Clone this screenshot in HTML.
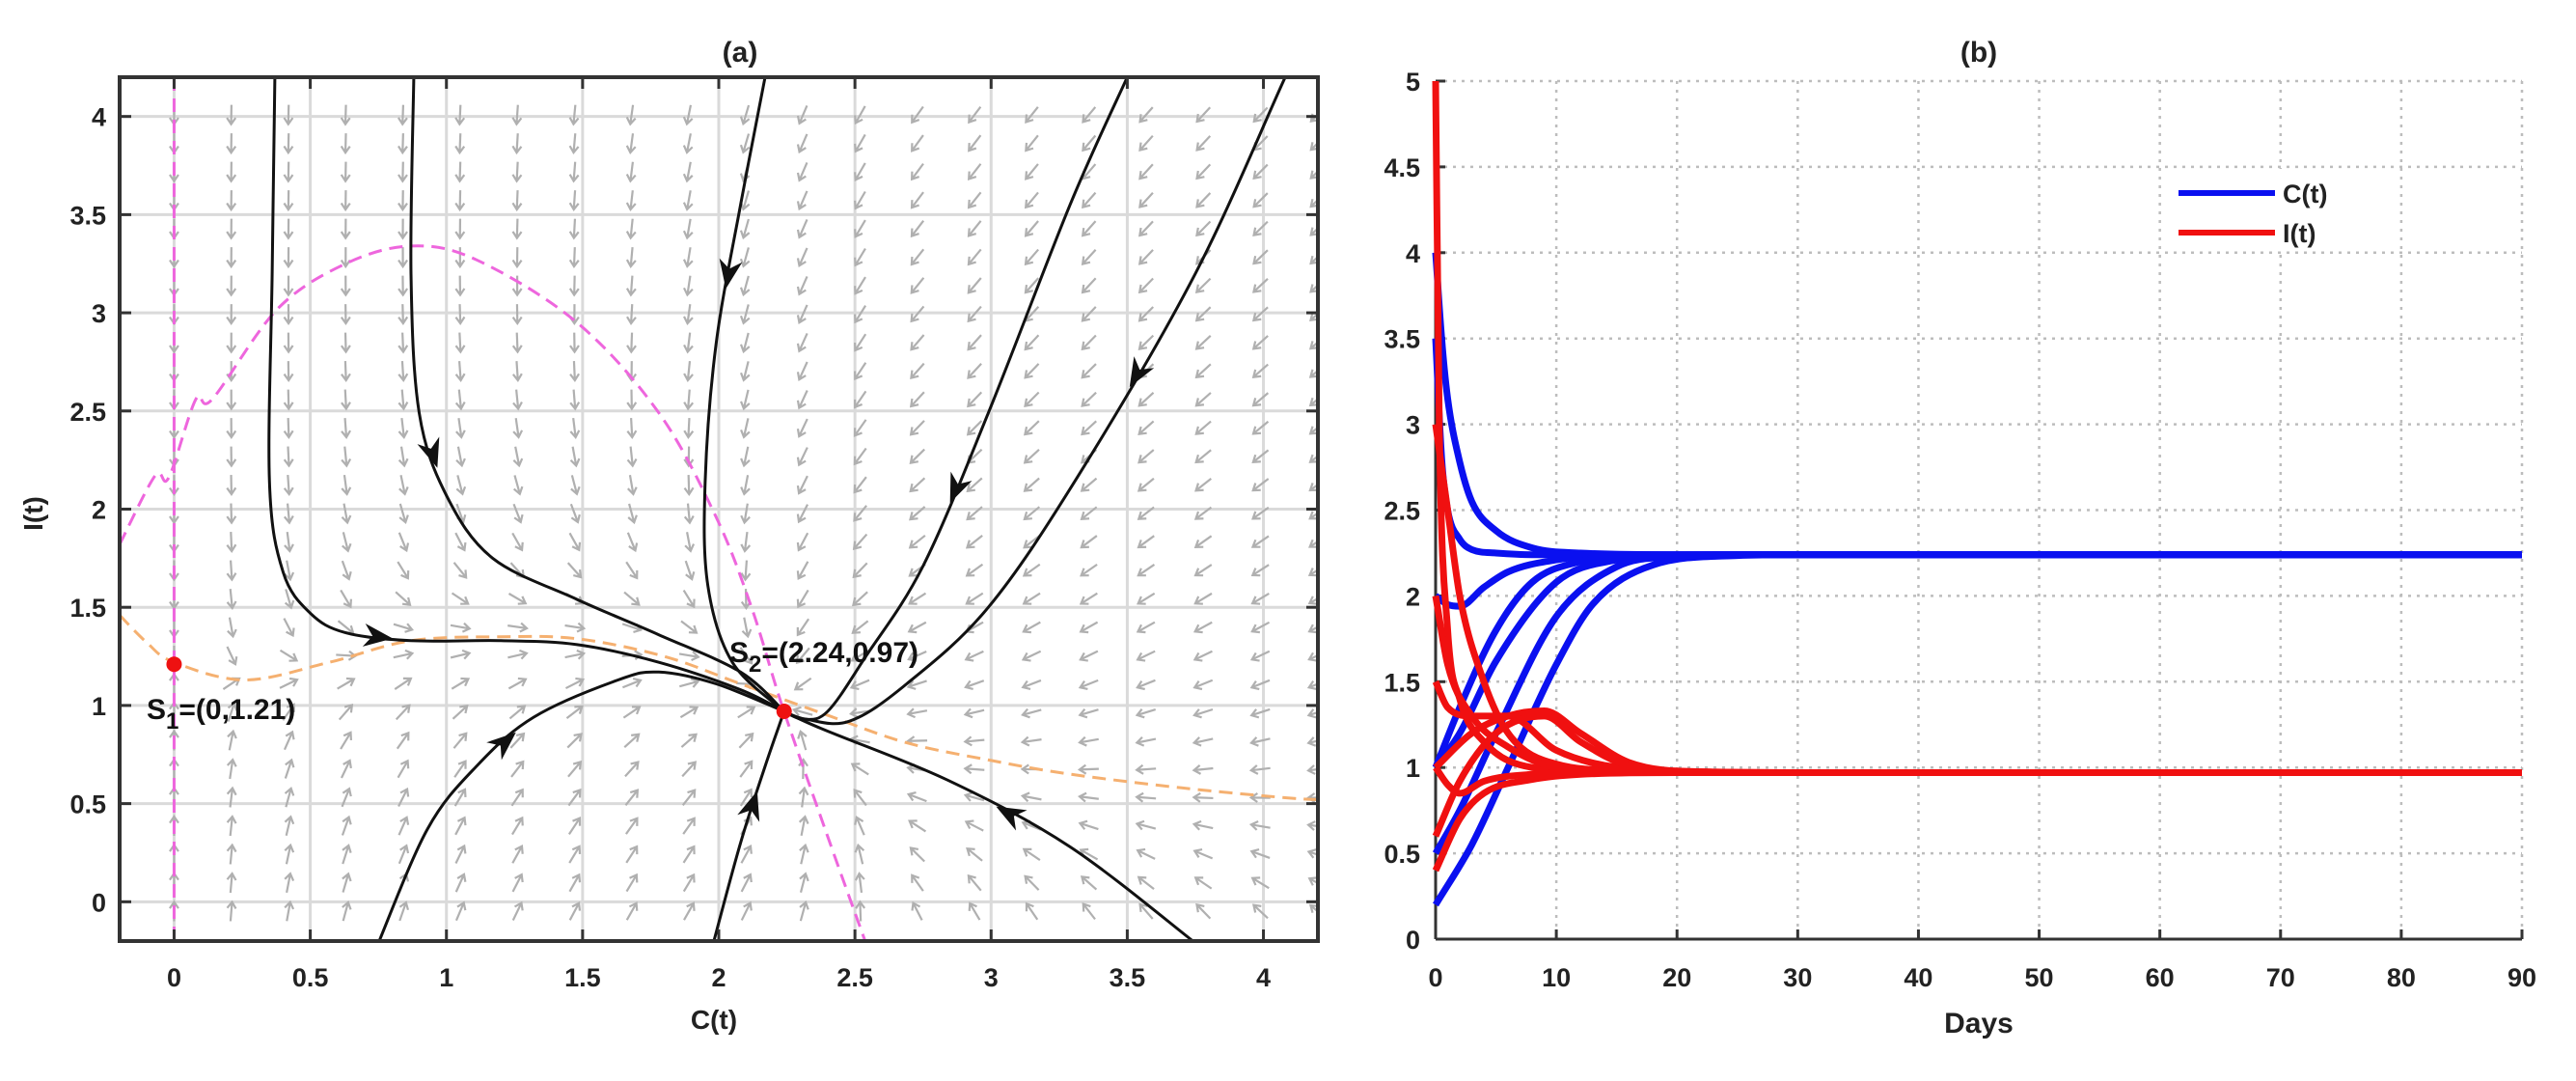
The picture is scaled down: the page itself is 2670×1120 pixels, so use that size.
<!DOCTYPE html>
<html><head><meta charset="utf-8"><style>
body{margin:0;background:#fff;}
svg{display:block;font-family:"Liberation Sans",sans-serif;}
</style></head><body>
<svg id="fig" width="2670" height="1120" viewBox="0 0 2670 1120" xmlns="http://www.w3.org/2000/svg">
<rect width="2670" height="1120" fill="#fff"/>
<g id="pa"></g>
<g id="pb"></g>
</svg>
<script>
// ---------- Panel (a) data ----------
const aXTicks=[0,0.5,1,1.5,2,2.5,3,3.5,4];
const aXTickLabels=["0","0.5","1","1.5","2","2.5","3","3.5","4"];
const aYTicks=[0,0.5,1,1.5,2,2.5,3,3.5,4];
const aYTickLabels=["0","0.5","1","1.5","2","2.5","3","3.5","4"];
const traj1=[[0.37,4.2],[0.36,3.2],[0.35,2.14],[0.4,1.68],[0.5,1.47],[0.63,1.37],[0.87,1.33],[1.2,1.33],[1.48,1.31],[1.78,1.22],[2.08,1.08],[2.24,0.97]];
const traj2=[[0.88,4.2],[0.87,3.2],[0.9,2.49],[1.0,2.07],[1.17,1.75],[1.48,1.54],[1.78,1.36],[2.08,1.17],[2.24,0.97]];
const traj3=[[2.17,4.2],[2.08,3.55],[1.99,2.84],[1.95,2.14],[1.96,1.61],[2.05,1.22],[2.24,0.97]];
const traj4=[[3.5,4.2],[3.29,3.55],[2.99,2.49],[2.75,1.71],[2.54,1.25],[2.4,0.97],[2.31,0.93],[2.24,0.97]];
const traj5=[[4.2,4.55],[4.08,4.2],[3.75,3.2],[3.32,2.17],[2.99,1.5],[2.69,1.11],[2.48,0.92],[2.32,0.93],[2.24,0.97]];
const traj6=[[0.75,-0.21],[0.93,0.37],[1.11,0.69],[1.32,0.94],[1.63,1.13],[1.78,1.17],[1.99,1.11],[2.24,0.97]];
const traj7=[[1.98,-0.21],[2.08,0.3],[2.17,0.69],[2.24,0.97]];
const traj8=[[3.75,-0.21],[3.29,0.28],[2.84,0.62],[2.38,0.88],[2.24,0.97]];
const trajectories=[traj1,traj2,traj3,traj4,traj5,traj6,traj7,traj8];
const trajArrowIdx=[5,2,1,2,2,2,1,1];
const orangeNull=[[-0.2,1.46],[-0.1,1.32],[0,1.22],[0.26,1.13],[0.57,1.22],[0.87,1.33],[1.2,1.35],[1.48,1.34],[1.8,1.25],[2.08,1.11],[2.4,0.95],[2.69,0.81],[3.0,0.72],[3.29,0.65],[3.7,0.58],[4.08,0.53],[4.2,0.52]];
const pinkNull=[[-0.2,1.82],[-0.07,2.17],[-0.02,2.16],[0.08,2.56],[0.14,2.56],[0.38,3.02],[0.63,3.25],[0.87,3.34],[1.11,3.27],[1.48,2.95],[1.78,2.49],[1.99,1.96],[2.12,1.5],[2.23,1.01],[2.38,0.41],[2.54,-0.21]];
const equilibria=[[0,1.21],[2.24,0.97]];

// ---------- Panel (b) data ----------
const bXTicks=[0,10,20,30,40,50,60,70,80,90];
const bXTickLabels=["0","10","20","30","40","50","60","70","80","90"];
const bYTicks=[0,0.5,1,1.5,2,2.5,3,3.5,4,4.5,5];
const bYTickLabels=["0","0.5","1","1.5","2","2.5","3","3.5","4","4.5","5"];
const tC1=[0,0.5,1,2,3,5,8,12,20,30,90], C1=[4,3.5,3.15,2.78,2.55,2.38,2.28,2.25,2.24,2.24,2.24];
const tC2=[0,0.5,1,2,3,5,8,15,30,90], C2=[3.5,2.8,2.5,2.33,2.27,2.25,2.24,2.24,2.24,2.24];
const tC3=[0,1,2,4,6,10,15,30,90], C3=[2.0,1.95,1.94,2.05,2.14,2.21,2.24,2.24,2.24];
const tC4=[0,2,5,8,12,16,22,30,90], C4=[1.0,1.35,1.8,2.08,2.2,2.23,2.24,2.24,2.24];
const tC5=[0,2,5,10,15,20,25,30,90], C5=[1.0,1.2,1.62,2.08,2.21,2.235,2.24,2.24,2.24];
const tC6=[0,2,5,10,15,20,25,30,90], C6=[0.5,0.75,1.2,1.88,2.17,2.23,2.24,2.24,2.24];
const tC7=[0,3,6,10,13,18,25,30,90], C7=[0.2,0.55,1.0,1.6,1.95,2.18,2.235,2.24,2.24];
const tI1=[0,0.3,1,2,4,8,14,20,30,90], I1=[5,3.0,1.8,1.4,1.15,1.0,0.975,0.97,0.97,0.97];
const tI2=[0,1,2,4,6,10,16,22,30,90], I2=[3,2.5,2.0,1.5,1.2,1.02,0.98,0.97,0.97,0.97];
const tI3=[0,1,3,6,10,16,22,30,90], I3=[2,1.6,1.3,1.12,1.0,0.975,0.97,0.97,0.97];
const tI4=[0,1,3,6,10,16,22,30,90], I4=[1.5,1.35,1.3,1.3,1.1,0.99,0.97,0.97,0.97];
const tI5=[0,3,6,9,12,16,22,30,90], I5=[1.0,1.2,1.3,1.33,1.2,1.03,0.975,0.97,0.97];
const tI6=[0,2,5,9,12,16,22,30,90], I6=[0.6,0.92,1.2,1.3,1.15,1.01,0.975,0.97,0.97];
const tI7=[0,2,4,8,12,20,30,90], I7=[0.4,0.7,0.85,0.93,0.96,0.97,0.97,0.97];
const tI8=[0,1,2,4,8,14,22,30,90], I8=[1.0,0.9,0.85,0.92,0.96,0.97,0.97,0.97,0.97];
const cSeriesT=[tC1,tC2,tC3,tC4,tC5,tC6,tC7];
const cSeries=[C1,C2,C3,C4,C5,C6,C7];
const iSeriesT=[tI1,tI2,tI3,tI4,tI5,tI6,tI7,tI8];
const iSeries=[I1,I2,I3,I4,I5,I6,I7,I8];

const NS="http://www.w3.org/2000/svg";
function mk(tag,attrs,parent){const e=document.createElementNS(NS,tag);for(const k in attrs)e.setAttribute(k,attrs[k]);parent.appendChild(e);return e;}
function smooth(pts){let d="M"+pts[0][0].toFixed(1)+","+pts[0][1].toFixed(1);
 for(let i=0;i<pts.length-1;i++){const p0=pts[i-1]||pts[i],p1=pts[i],p2=pts[i+1],p3=pts[i+2]||p2;
  const c1=[p1[0]+(p2[0]-p0[0])/6,p1[1]+(p2[1]-p0[1])/6],c2=[p2[0]-(p3[0]-p1[0])/6,p2[1]-(p3[1]-p1[1])/6];
  d+="C"+c1[0].toFixed(1)+","+c1[1].toFixed(1)+" "+c2[0].toFixed(1)+","+c2[1].toFixed(1)+" "+p2[0].toFixed(1)+","+p2[1].toFixed(1);}
 return d;}
// monotone cubic (Fritsch-Carlson) path for function data x->y (pixel coords, x increasing)
function monotone(pts){const n=pts.length;const dx=[],m=[],s=[];
 for(let i=0;i<n-1;i++){dx[i]=pts[i+1][0]-pts[i][0];s[i]=(pts[i+1][1]-pts[i][1])/dx[i];}
 m[0]=s[0];m[n-1]=s[n-2];
 for(let i=1;i<n-1;i++){m[i]=(s[i-1]*s[i]<=0)?0:(s[i-1]+s[i])/2;}
 for(let i=0;i<n-1;i++){if(s[i]===0){m[i]=0;m[i+1]=0;continue;}const a=m[i]/s[i],b=m[i+1]/s[i],h=a*a+b*b;if(h>9){const t=3/Math.sqrt(h);m[i]=t*a*s[i];m[i+1]=t*b*s[i];}}
 let d="M"+pts[0][0].toFixed(1)+","+pts[0][1].toFixed(1);
 for(let i=0;i<n-1;i++){const h=dx[i]/3;d+="C"+(pts[i][0]+h).toFixed(1)+","+(pts[i][1]+m[i]*h).toFixed(1)+" "+(pts[i+1][0]-h).toFixed(1)+","+(pts[i+1][1]-m[i+1]*h).toFixed(1)+" "+pts[i+1][0].toFixed(1)+","+pts[i+1][1].toFixed(1);}
 return d;}

// ---------- Panel (a) ----------
const pa=document.getElementById('pa');
const aL=124,aR=1366,aT=80,aB=975,aXmin=-0.2,aXmax=4.2,aYmin=-0.2,aYmax=4.2;
const ax=v=>aL+(v-aXmin)/(aXmax-aXmin)*(aR-aL);
const ay=v=>aB-(v-aYmin)/(aYmax-aYmin)*(aB-aT);
const clipA=mk('clipPath',{id:'clipA'},pa);mk('rect',{x:aL,y:aT,width:aR-aL,height:aB-aT},clipA);
aXTicks.forEach((t,i)=>{const g=mk('line',{x1:ax(t),x2:ax(t),y1:aT,y2:aB,stroke:'#dadada','stroke-width':3},pa);
 });
aYTicks.forEach((t,i)=>{const g=mk('line',{x1:aL,x2:aR,y1:ay(t),y2:ay(t),stroke:'#dadada','stroke-width':3},pa);
 });
function interp(arr,x){for(let i=0;i<arr.length-1;i++){if(x>=arr[i][0]&&x<=arr[i+1][0]){const f=(x-arr[i][0])/(arr[i+1][0]-arr[i][0]);return arr[i][1]+f*(arr[i+1][1]-arr[i][1]);}}return x<arr[0][0]?arr[0][1]:arr[arr.length-1][1];}
const pinkFn=c=>c>2.54?-1:(c<0?0:interp(pinkNull,c));
const field=mk('g',{'clip-path':'url(#clipA)'},pa);


for(let i=0;i<21;i++){for(let j=0;j<30;j++){
 const c=i*0.21,I=-0.05+j*0.145;if(I>4.05)continue;
 const dI=(interp(orangeNull,c)-I);
 let dC=0.12*c*(pinkFn(c)-I);
 let vx=dC*282,vy=-dI*202;const n=Math.hypot(vx,vy)||1;vx=vx/n*20;vy=vy/n*20;
 const x0=ax(c)-vx/2,y0=ay(I)-vy/2,x1=x0+vx,y1=y0+vy;
 const ang=Math.atan2(vy,vx);
 const a=mk('path',{d:`M${x0},${y0}L${x1},${y1}M${x1-8*Math.cos(ang-0.6)},${y1-8*Math.sin(ang-0.6)}L${x1},${y1}L${x1-8*Math.cos(ang+0.6)},${y1-8*Math.sin(ang+0.6)}`,stroke:'#b0b0b0','stroke-width':2.2,fill:'none'},field);
 
}}
const nl=mk('g',{'clip-path':'url(#clipA)'},pa);
const vln=mk('line',{x1:ax(0),x2:ax(0),y1:aT,y2:aB,stroke:'#ee66dd','stroke-width':3,'stroke-dasharray':'14 8'},nl);

const pk=mk('path',{d:smooth(pinkNull.map(p=>[ax(p[0]),ay(p[1])])),stroke:'#ee66dd','stroke-width':3,fill:'none','stroke-dasharray':'14 8'},nl);

const on=mk('path',{d:smooth(orangeNull.map(p=>[ax(p[0]),ay(p[1])])),stroke:'#f5b070','stroke-width':3,fill:'none','stroke-dasharray':'14 8'},nl);

trajectories.forEach((tr,k)=>{const pts=tr.map(p=>[ax(p[0]),ay(p[1])]);
 const p=mk('path',{d:smooth(pts),stroke:'#111','stroke-width':3,fill:'none'},nl);
 
 const i=trajArrowIdx[k];const a=pts[i],b=pts[i+1];const mx=(a[0]+b[0])/2,my=(a[1]+b[1])/2;const ang=Math.atan2(b[1]-a[1],b[0]-a[0]);
 const L=30,W=12;const tip=[mx+L/2*Math.cos(ang),my+L/2*Math.sin(ang)];
 const bx=mx-L/2*Math.cos(ang),by=my-L/2*Math.sin(ang);
 const nx=-Math.sin(ang),ny=Math.cos(ang);
 const ah=mk('polygon',{points:`${tip[0]},${tip[1]} ${bx+nx*W},${by+ny*W} ${mx-L*0.2*Math.cos(ang)},${my-L*0.2*Math.sin(ang)} ${bx-nx*W},${by-ny*W}`,fill:'#111'},nl);
 
});
equilibria.forEach(e=>{const c=mk('circle',{cx:ax(e[0]),cy:ay(e[1]),r:8,fill:'#ee1111'},pa);
 });
const box=mk('rect',{x:aL,y:aT,width:aR-aL,height:aB-aT,fill:'none',stroke:'#333','stroke-width':4},pa);

aXTicks.forEach((t,i)=>{mk('line',{x1:ax(t),x2:ax(t),y1:aB,y2:aB-12,stroke:'#333','stroke-width':3},pa);mk('line',{x1:ax(t),x2:ax(t),y1:aT,y2:aT+12,stroke:'#333','stroke-width':3},pa);
 const tx=mk('text',{x:ax(t),y:1022,'font-size':27,'font-weight':'bold','text-anchor':'middle',fill:'#222'},pa);tx.textContent=aXTickLabels[i];
 });
aYTicks.forEach((t,i)=>{mk('line',{x1:aL,x2:aL+12,y1:ay(t),y2:ay(t),stroke:'#333','stroke-width':3},pa);mk('line',{x1:aR,x2:aR-12,y1:ay(t),y2:ay(t),stroke:'#333','stroke-width':3},pa);
 const tx=mk('text',{x:110,y:ay(t)+10,'font-size':27,'font-weight':'bold','text-anchor':'end',fill:'#222'},pa);tx.textContent=aYTickLabels[i];
 });
</script>
<script>
(function(){
const pa=document.getElementById('pa');
pa.insertAdjacentHTML('beforeend',
'<text x="767" y="64" font-size="30" font-weight="bold" text-anchor="middle" fill="#222">(a)</text>'+
'<text x="740" y="1066" font-size="28" font-weight="bold" text-anchor="middle" fill="#222">C(t)</text>'+
'<text transform="translate(44,532) rotate(-90)" font-size="28" font-weight="bold" text-anchor="middle" fill="#222">I(t)</text>'+
'<text x="152" y="745" font-size="30" font-weight="bold" fill="#111">S<tspan dy="10" font-size="24">1</tspan><tspan dy="-10">=(0,1.21)</tspan></text>'+
'<text x="756" y="686" font-size="30" font-weight="bold" fill="#111">S<tspan dy="10" font-size="24">2</tspan><tspan dy="-10">=(2.24,0.97)</tspan></text>');
})();
// ---------- Panel (b) ----------
const pb=document.getElementById('pb');
const bL=1488,bR=2614,bT=84,bB=973;
const bx=v=>bL+v/90*(bR-bL);
const by=v=>bB-v/5*(bB-bT);
bXTicks.forEach((t,i)=>{const g=mk('line',{x1:bx(t),x2:bx(t),y1:bT,y2:bB,stroke:'#bdbdbd','stroke-width':2.5,'stroke-dasharray':'3 6'},pb);
 
 mk('line',{x1:bx(t),x2:bx(t),y1:bB,y2:bB-10,stroke:'#333','stroke-width':3},pb);
 const tx=mk('text',{x:bx(t),y:1022,'font-size':27,'font-weight':'bold','text-anchor':'middle',fill:'#222'},pb);tx.textContent=bXTickLabels[i];
 });
bYTicks.forEach((t,i)=>{const g=mk('line',{x1:bL,x2:bR,y1:by(t),y2:by(t),stroke:'#bdbdbd','stroke-width':2.5,'stroke-dasharray':'3 6'},pb);
 
 mk('line',{x1:bL,x2:bL+10,y1:by(t),y2:by(t),stroke:'#333','stroke-width':3},pb);
 const tx=mk('text',{x:1472,y:by(t)+10,'font-size':27,'font-weight':'bold','text-anchor':'end',fill:'#222'},pb);tx.textContent=bYTickLabels[i];
 });
const ax1=mk('line',{x1:bL,x2:bL,y1:bT,y2:bB,stroke:'#333','stroke-width':3},pb);

const ax2=mk('line',{x1:bL,x2:bR,y1:bB,y2:bB,stroke:'#333','stroke-width':3},pb);

function series(ts,vs,color,name){const p=mk('path',{d:monotone(ts.map((t,i)=>[bx(t),by(vs[i])])),stroke:color,'stroke-width':7,fill:'none','stroke-linejoin':'round'},pb);
 }
cSeries.forEach((v,k)=>series(cSeriesT[k],v,'#0a10f0','c-series-line'));
iSeries.forEach((v,k)=>series(iSeriesT[k],v,'#f01010','i-series-line'));
pb.insertAdjacentHTML('beforeend',
'<rect x="2250" y="175" width="200" height="85" fill="#fff"/>'+
'<line x1="2258" x2="2358" y1="200" y2="200" stroke="#0a10f0" stroke-width="6"/>'+
'<text x="2366" y="210" font-size="27" font-weight="bold" fill="#222">C(t)</text>'+
'<line x1="2258" x2="2358" y1="241" y2="241" stroke="#f01010" stroke-width="6"/>'+
'<text x="2366" y="251" font-size="27" font-weight="bold" fill="#222">I(t)</text>'+
'<text x="2051" y="64" font-size="30" font-weight="bold" text-anchor="middle" fill="#222">(b)</text>'+
'<text x="2051" y="1070" font-size="30" font-weight="bold" text-anchor="middle" fill="#222">Days</text>');
</script>
</body></html>
